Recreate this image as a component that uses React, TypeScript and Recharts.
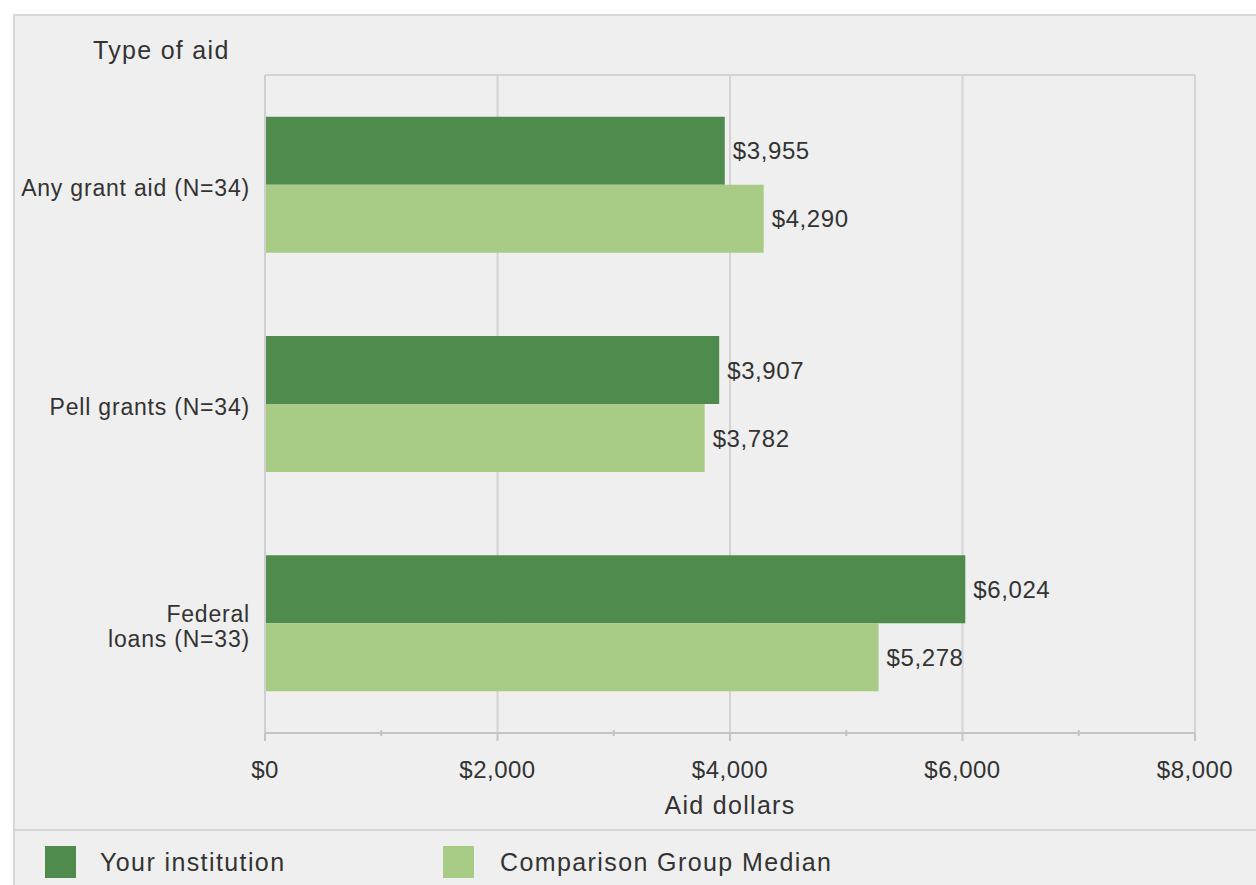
import React from 'react';
import { BarChart, Bar, XAxis, YAxis, CartesianGrid, LabelList } from 'recharts';

const categories = ['Any grant aid (N=34)', 'Pell grants (N=34)', 'Federal\nloans (N=33)'];
const yourInstitution = [3955, 3907, 6024];
const comparisonMedian = [4290, 3782, 5278];
const seriesNames = ['Your institution', 'Comparison Group Median'];
const seriesColors = ['#4e8b4c', '#a8cc86'];
const xTicks = [0, 1000, 2000, 3000, 4000, 5000, 6000, 7000, 8000];
const majorTicks = [0, 2000, 4000, 6000, 8000];
const xTitle = 'Aid dollars';
const yTitle = 'Type of aid';

const data = categories.map((c, i) => ({
  category: c,
  yours: yourInstitution[i],
  median: comparisonMedian[i],
}));

const FONT = '"Liberation Sans", Arial, Helvetica, sans-serif';
const TEXT = '#333333';
const GRID = '#d4d4d4';

const money = (v: number) => '$' + Number(v).toLocaleString('en-US');

const XTick = (props: any) => {
  const { x, y, payload } = props;
  const major = payload.value % 2000 === 0;
  return (
    <g>
      <line x1={x} x2={x} y1={y - (major ? 0 : 3)} y2={y + (major ? 8 : 3)} stroke="#c4c4c4" strokeWidth={2} />
      {major && (
        <text x={x} y={y + 45} textAnchor="middle" fill={TEXT} fontSize={24} fontFamily={FONT} letterSpacing={0.5}>
          {money(payload.value)}
        </text>
      )}
    </g>
  );
};

const YTick = (props: any) => {
  const { x, y, payload } = props;
  const lines = String(payload.value).split('\n');
  const lh = 25;
  const start = y + 3 - ((lines.length - 1) * lh) / 2;
  return (
    <text x={x} y={start} textAnchor="end" fill={TEXT} fontSize={23} fontFamily={FONT} letterSpacing={0.8} dominantBaseline="central">
      {lines.map((l, i) => (
        <tspan key={i} x={x} y={start + i * lh}>
          {l}
        </tspan>
      ))}
    </text>
  );
};

export default function App() {
  return (
    <div style={{ position: 'absolute', left: 0, top: 0, width: 1256, height: 885, background: '#ffffff', fontFamily: FONT, overflow: 'hidden' }}>
      <div style={{ position: 'absolute', left: 13, top: 14, width: 1243, height: 871, background: '#efefef', borderTop: '2px solid #d8d8d8', borderLeft: '2px solid #d8d8d8', boxSizing: 'border-box' }} />
      <div style={{ position: 'absolute', left: 13, top: 829, width: 1243, height: 2, background: '#d6d6d6' }} />
      <div style={{ position: 'absolute', left: 0, top: 0 }}>
        <BarChart
          width={1256}
          height={885}
          data={data}
          layout="vertical"
          margin={{ top: 75, right: 61, left: 15, bottom: 62 }}
          barCategoryGap="19%"
          barGap={0}
        >
          <CartesianGrid
            stroke={GRID}
            strokeWidth={2}
            verticalCoordinatesGenerator={(p: any) =>
              majorTicks.map((t) =>
                p.xAxis && typeof p.xAxis.scale === 'function'
                  ? p.xAxis.scale(t)
                  : p.offset.left + (t / majorTicks[majorTicks.length - 1]) * p.offset.width
              )
            }
            horizontalCoordinatesGenerator={(p: any) => [p.offset.top]}
          />
          <XAxis
            type="number"
            domain={[0, 8000]}
            ticks={xTicks}
            interval={0}
            tickSize={0}
            tickMargin={0}
            tickLine={false}
            tick={<XTick />}
            axisLine={{ stroke: '#c4c4c4', strokeWidth: 2 }}
            height={90}
            label={{ value: xTitle, position: 'insideBottom', offset: 9, fill: TEXT, fontSize: 25, fontFamily: FONT, letterSpacing: 1.3 }}
          />
          <YAxis
            type="category"
            dataKey="category"
            width={250}
            tickSize={0}
            tickMargin={15}
            tickLine={false}
            tick={<YTick />}
            axisLine={{ stroke: '#cfcfcf', strokeWidth: 2 }}
          />
          <Bar dataKey="yours" name={seriesNames[0]} fill={seriesColors[0]} isAnimationActive={false}>
            <LabelList dataKey="yours" position="right" offset={8} formatter={(v: any) => money(v)} fill={TEXT} fontSize={24} fontFamily={FONT} letterSpacing={0.6} />
          </Bar>
          <Bar dataKey="median" name={seriesNames[1]} fill={seriesColors[1]} isAnimationActive={false}>
            <LabelList dataKey="median" position="right" offset={8} formatter={(v: any) => money(v)} fill={TEXT} fontSize={24} fontFamily={FONT} letterSpacing={0.6} />
          </Bar>
        </BarChart>
      </div>
      <div style={{ position: 'absolute', left: 93, top: 34, fontSize: 25, color: TEXT, lineHeight: '32px', whiteSpace: 'nowrap', letterSpacing: 1.3 }}>{yTitle}</div>
      {seriesNames.map((n, i) => (
        <div key={n} style={{ position: 'absolute', left: i === 0 ? 45 : 443, top: 846, height: 32, display: 'flex', alignItems: 'center', whiteSpace: 'nowrap' }}>
          <div style={{ width: 31, height: 32, background: seriesColors[i] }} />
          <div style={{ marginLeft: i === 0 ? 24 : 26, fontSize: 25, color: TEXT, letterSpacing: 1.4 }}>{n}</div>
        </div>
      ))}
    </div>
  );
}
